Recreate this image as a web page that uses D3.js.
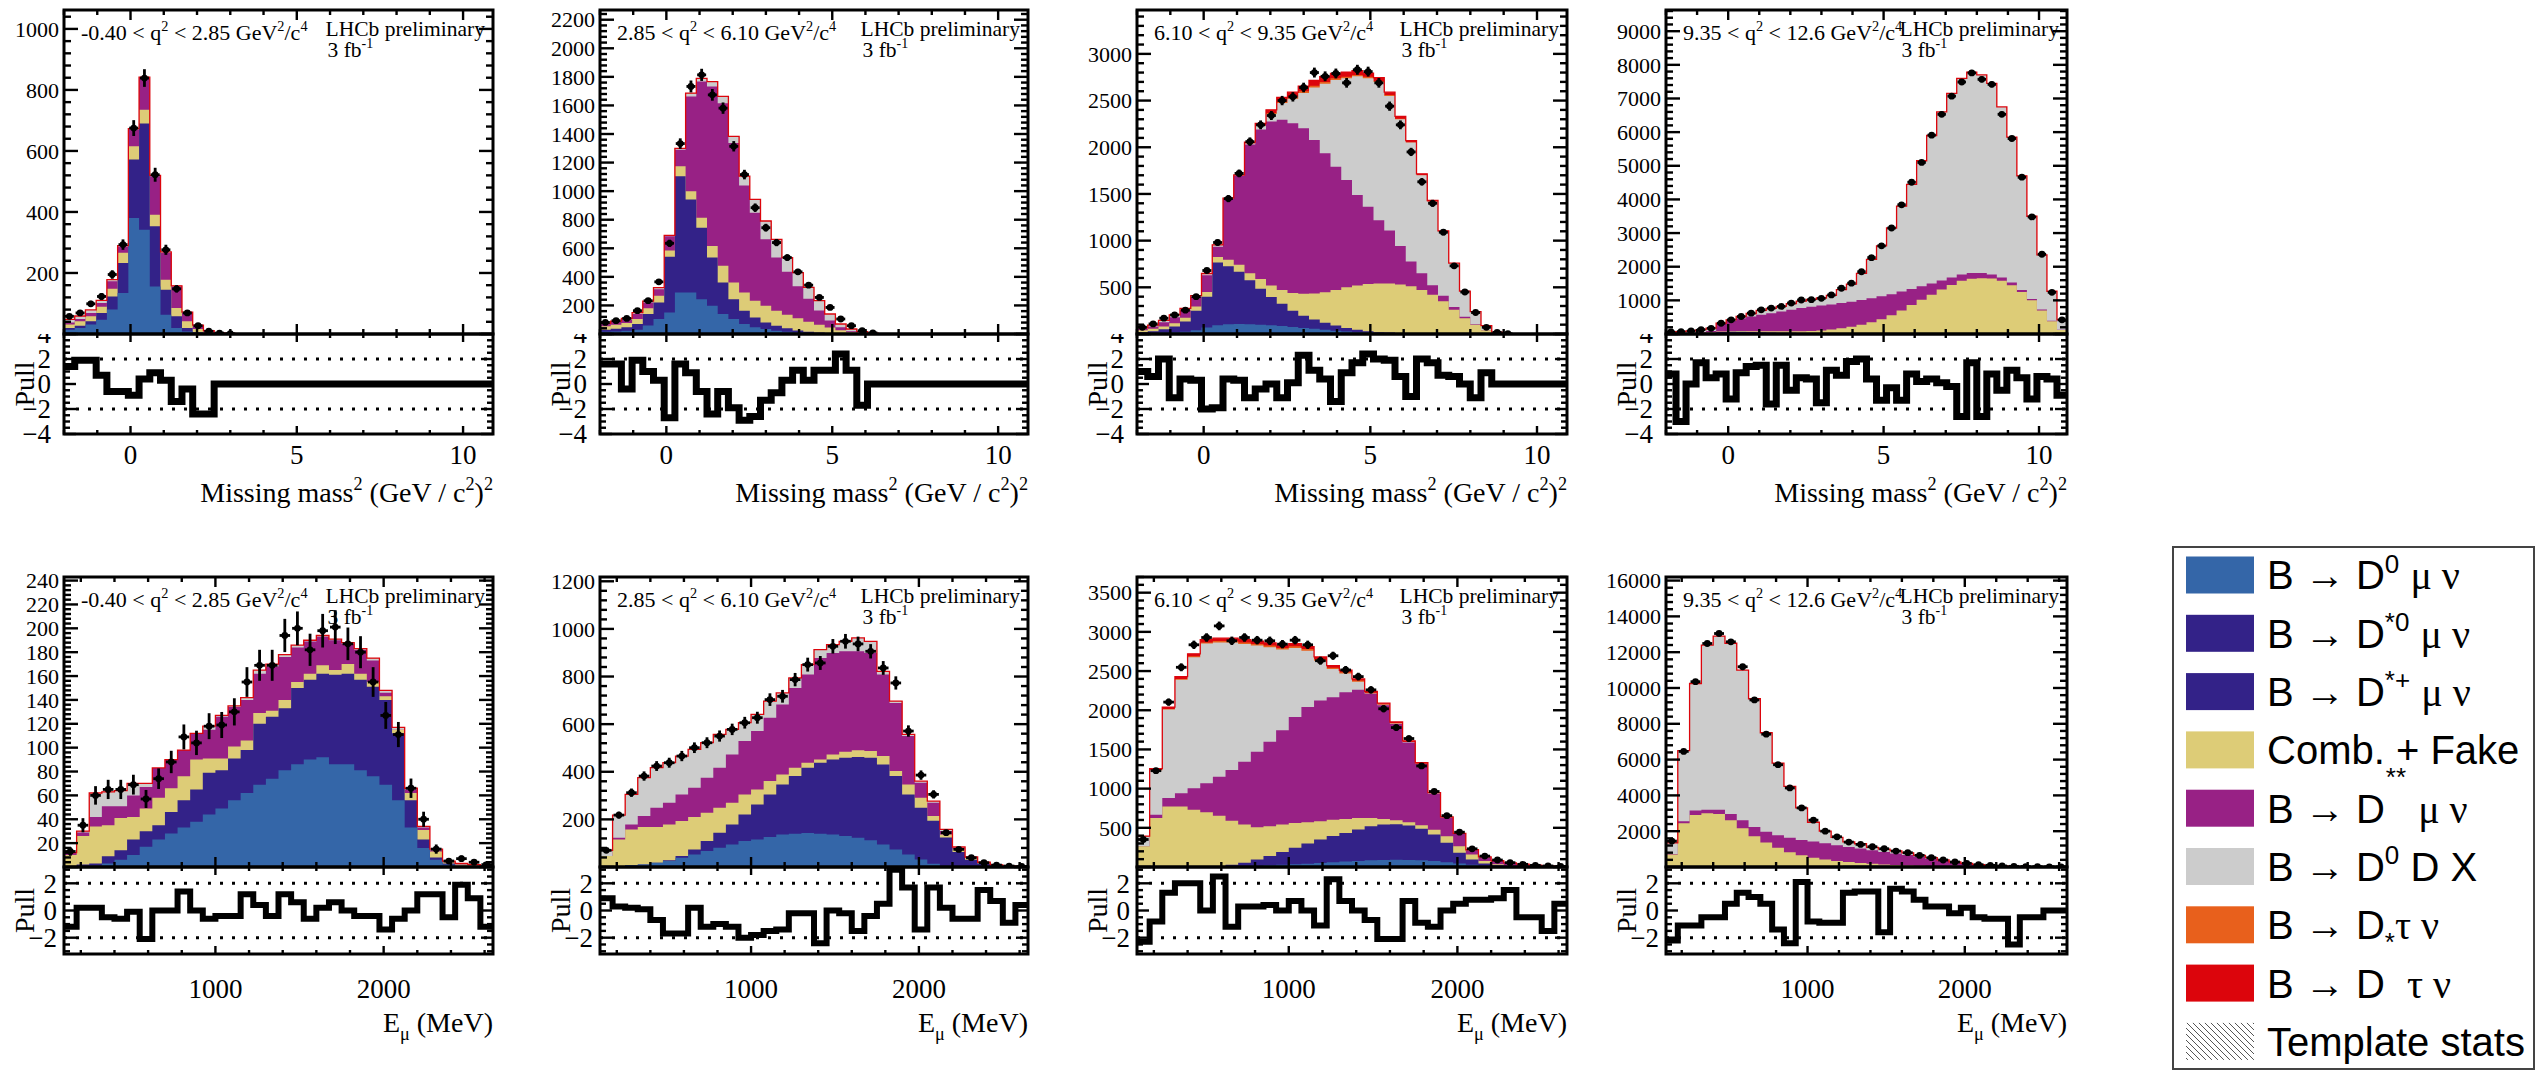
<!DOCTYPE html>
<html>
<head>
<meta charset="utf-8">
<script src="https://cdn.jsdelivr.net/npm/d3@7"></script>
<style>
  html, body { margin: 0; padding: 0; background: #fff; }
  svg { display: block; }
  text { font-family: "Liberation Serif", "Times New Roman", serif; fill: #000; white-space: pre; }
  .leg text { font-family: "Liberation Sans", Arial, sans-serif; }
</style>
</head>
<body>
<svg id="chart" width="2539" height="1086"></svg>
<script>
// ---------------------------------------------------------------
// Binning and q^2 intervals
// ---------------------------------------------------------------
const MM_RANGE = [-2, 10.9];      // missing mass squared, 40 bins
const EMU_RANGE = [100, 2650];    // muon energy, 34 bins
const Q2_EDGES = ["-0.40", "2.85", "6.10", "9.35", "12.6"];

const MM_YMAX = [1062, 2268, 3470, 9630];
const MM_YSTEP = [200, 200, 500, 1000];
const EMU_YMAX = [243, 1218, 3700, 16200];
const EMU_YSTEP = [20, 200, 500, 2000];

// ---------------------------------------------------------------
// Missing mass squared, q^2 bin 1
// ---------------------------------------------------------------
const MM_Q1_DATA = [58,69,99,123,195,293,675,839,522,276,
  148,69,27,9,3,1,0,0,0,0, 0,0,0,0,0,0,0,0,0,0, 0,0,0,0,0,0,0,0,0,0];
const MM_Q1_D0 = [14,20,31,47,80,134,380,342,156,63,
  20,8,2,0,0,0,0,0,0,0, 0,0,0,0,0,0,0,0,0,0, 0,0,0,0,0,0,0,0,0,0];
const MM_Q1_DST = [6,7,11,22,43,99,192,348,197,82,
  38,12,4,1,0,0,0,0,0,0, 0,0,0,0,0,0,0,0,0,0, 0,0,0,0,0,0,0,0,0,0];
const MM_Q1_COMB = [11,15,16,20,25,33,43,45,38,33,
  27,22,10,4,2,1,0,0,0,0, 0,0,0,0,0,0,0,0,0,0, 0,0,0,0,0,0,0,0,0,0];
const MM_Q1_DSS = [7,7,11,13,25,21,55,104,126,88,
  71,28,12,5,2,1,0,0,0,0, 0,0,0,0,0,0,0,0,0,0, 0,0,0,0,0,0,0,0,0,0];
const MM_Q1_DDX = [10,10,10,8,5,3,3,3,3,3,
  2,2,1,1,0,0,0,0,0,0, 0,0,0,0,0,0,0,0,0,0, 0,0,0,0,0,0,0,0,0,0];
const MM_Q1_PULL = [1.4,1.9,1.9,0.7,-0.6,-0.6,-0.9,0.4,0.9,0.3,
  -1.4,-0.4,-2.4,-2.4,0,0,0,0,0,0, 0,0,0,0,0,0,0,0,0,0, 0,0,0,0,0,0,0,0,0,0];

// ---------------------------------------------------------------
// Missing mass squared, q^2 bin 2
// ---------------------------------------------------------------
const MM_Q2_DATA = [81,93,109,163,233,365,635,1333,1733,1814,
  1674,1581,1314,1116,884,744,640,535,435,342,
  256,186,105,58,23,8,0,0,0,0, 0,0,0,0,0,0,0,0,0,0];
const MM_Q2_D0 = [15,18,22,30,60,105,150,290,290,244,
  198,140,105,70,47,35,23,15,10,6,
  4,2,1,0,0,0,0,0,0,0, 0,0,0,0,0,0,0,0,0,0];
const MM_Q2_DST = [15,18,25,40,80,115,390,815,652,500,
  337,220,139,93,69,46,35,25,15,10,
  6,3,1,0,0,0,0,0,0,0, 0,0,0,0,0,0,0,0,0,0];
const MM_Q2_COMB = [25,28,30,35,40,47,45,69,58,70,
  81,117,116,128,117,117,105,95,85,70,
  55,40,25,12,6,3,0,0,0,0, 0,0,0,0,0,0,0,0,0,0];
const MM_Q2_DSS = [15,20,25,35,40,47,100,116,663,953,
  1117,1139,977,749,616,465,372,300,225,160,
  100,50,20,8,3,1,0,0,0,0, 0,0,0,0,0,0,0,0,0,0];
const MM_Q2_DDX = [5,6,8,10,10,10,5,10,23,23,
  34,47,47,65,93,128,128,100,95,80,
  68,45,23,15,7,2,0,0,0,0, 0,0,0,0,0,0,0,0,0,0];
const MM_Q2_PULL = [1.6,1.6,-0.4,1.9,1.0,0.3,-2.7,1.6,0.9,-0.6,
  -2.4,-0.6,-1.9,-2.9,-2.6,-1.3,-0.7,0.3,1.1,0.3,
  1.1,1.1,2.4,1.1,-1.7,0,0,0,0,0, 0,0,0,0,0,0,0,0,0,0];

// ---------------------------------------------------------------
// Missing mass squared, q^2 bin 3
// ---------------------------------------------------------------
const MM_Q3_DATA = [72,108,169,204,255,400,680,980,1450,1720,
  2060,2240,2340,2500,2540,2640,2800,2760,2790,2690,
  2830,2810,2690,2440,2240,1950,1630,1400,1090,730,
  450,230,72,18,3,0,0,0,0,0];
const MM_Q3_D0 = [8,10,15,20,25,40,70,95,105,108,
  105,100,95,85,75,65,55,45,35,28,
  20,15,10,7,5,3,2,1,0,0, 0,0,0,0,0,0,0,0,0,0];
const MM_Q3_DST = [12,20,35,60,110,210,330,670,620,560,
  470,385,300,240,175,130,100,75,55,35,
  25,15,10,8,5,3,2,1,0,0, 0,0,0,0,0,0,0,0,0,0];
const MM_Q3_COMB = [20,25,30,35,40,45,50,60,70,75,
  75,105,125,145,190,235,280,328,380,437,
  475,505,520,525,520,505,467,419,350,260,
  170,100,40,10,2,0,0,0,0,0];
const MM_Q3_DSS = [15,25,45,65,80,100,178,110,650,950,
  1380,1600,1756,1824,1818,1774,1644,1488,1322,1149,
  968,827,679,568,413,266,179,101,60,30,
  15,5,2,0,0,0,0,0,0,0];
const MM_Q3_DDX = [10,15,20,25,20,15,20,20,10,10,
  10,40,80,180,262,376,561,744,928,1091,
  1272,1378,1481,1442,1357,1273,1050,898,690,470,
  275,135,48,10,2,0,0,0,0,0];
const MM_Q3_TAUDST = [0,0,0,0,0,0,0,0,0,0,
  0,0,10,15,20,20,20,20,20,15,
  15,15,10,10,5,0,0,0,0,0, 0,0,0,0,0,0,0,0,0,0];
const MM_Q3_TAUD = [0,0,0,0,0,0,0,0,0,0,
  15,25,35,45,50,55,55,55,50,50,
  45,40,35,30,25,20,15,10,5,0, 0,0,0,0,0,0,0,0,0,0];
const MM_Q3_PULL = [1.0,0.6,2.0,-1.1,0.4,0.3,-2.0,-1.9,0.4,0.3,
  -1.1,-0.4,0.0,-1.1,0.1,2.3,1.1,0.4,-1.4,0.9,
  1.7,2.4,2.0,1.9,0.6,-1.0,2.0,1.7,0.7,0.6,
  0.0,-1.1,0.9,0.0,0,0,0,0,0,0];

// ---------------------------------------------------------------
// Missing mass squared, q^2 bin 4
// ---------------------------------------------------------------
const MM_Q4_DATA = [60,70,90,130,170,320,420,520,620,720,
  770,820,920,1010,1020,1060,1160,1360,1510,1850,
  2270,2620,3150,3840,4510,5100,5910,6530,7070,7490,
  7760,7570,7420,6530,5810,4660,3480,2370,1240,420];
const MM_Q4_D0 = [5,5,5,8,10,15,15,12,10,8,
  6,5,4,3,2,1,1,0,0,0, 0,0,0,0,0,0,0,0,0,0, 0,0,0,0,0,0,0,0,0,0];
const MM_Q4_DST = [10,10,15,20,30,45,55,55,50,45,
  40,35,30,25,20,15,10,8,5,3,
  2,1,0,0,0,0,0,0,0,0, 0,0,0,0,0,0,0,0,0,0];
const MM_Q4_COMB = [5,5,5,8,10,15,15,20,25,30,
  35,40,45,55,70,90,120,160,210,270,
  350,440,560,700,860,1020,1170,1320,1460,1580,
  1640,1660,1650,1580,1450,1250,1000,700,380,120];
const MM_Q4_DSS = [10,12,15,25,40,225,305,383,435,487,
  539,590,641,687,718,744,749,752,745,737,
  708,679,620,560,480,400,330,270,220,190,
  170,150,120,100,80,60,40,25,12,5];
const MM_Q4_DDX = [30,38,50,69,85,20,30,50,90,130,
  140,150,180,210,220,220,270,400,520,790,
  1160,1500,1970,2540,3110,3730,4400,5010,5470,5830,
  5970,5890,5680,5070,4320,3390,2460,1625,878,295];
const MM_Q4_PULL = [0.8,-3.0,0.0,1.7,0.5,0.8,-1.2,0.9,1.4,1.5,
  -1.6,1.5,-0.5,0.5,0.4,-1.5,1.1,0.7,1.8,2.0,
  0.4,-1.3,-0.3,-1.3,0.8,0.2,0.4,0.1,-0.2,-2.6,
  1.7,-2.6,0.8,-0.5,1.1,0.5,-1.2,0.6,0.4,-0.9];

// ---------------------------------------------------------------
// Muon energy, q^2 bin 1
// ---------------------------------------------------------------
const EMU_Q1_DATA = [13,35,60,65,65,69,57,74,88,109,
  104,118,119,130,155,169,169,194,200,182,
  198,201,187,180,155,127,111,66,40,15,
  5,7,4,2];
const EMU_Q1_D0 = [0,0.5,1,3,6,10,17,23,28,33,
  38,44,49,56,62,69,74,81,86,90,
  92,86,86,81,76,69,56,33,16,6,
  2,0.5,0,0];
const EMU_Q1_DST = [0.5,1.5,2,6,8,13,13,12,18,23,
  27,35,32,35,36,51,52,52,64,67,
  70,75,76,76,75,71,56,23,7,2,
  1,0.5,0.3,0.2];
const EMU_Q1_COMB = [9.5,24,31,26,27,19,19,23,20,20,
  25,12,10,10,8,9,5,7,5,5,
  7,4,8,5,4,3,3,6,8,5,
  1,1,1,0.5];
const EMU_Q1_DSS = [2,3,8,16,10,18,18,25,24,22,
  22,24,35,33,34,33,37,36,29,27,
  24,25,17,20,18,3,0,3,2,1,
  0.5,0.5,0.3,0.1];
const EMU_Q1_DDX = [0,1,20,12,13,10,3,0,0,0,
  0,3,1,1,2,3,2,2,2,1,
  1,1,1,1,2,2,2,1,1,1,
  0.5,0.5,0.4,0.2];
const EMU_Q1_PULL = [-1.2,0.2,0.2,-0.5,-0.6,-0.1,-2.1,0.0,0.0,1.4,
  0.0,-0.6,-0.4,-0.4,1.2,0.4,-0.4,1.2,0.6,-0.6,
  0.2,0.6,0.0,-0.4,-0.4,-1.4,-0.6,0.0,1.2,1.2,
  -0.5,1.9,0.9,-1.2];

// ---------------------------------------------------------------
// Muon energy, q^2 bin 2
// ---------------------------------------------------------------
const EMU_Q2_DATA = [70,218,312,382,424,438,466,501,522,550,
  578,606,627,703,717,787,850,857,927,948,
  937,906,836,773,571,386,305,144,74,39,
  18,8,4,2];
const EMU_Q2_D0 = [1,4,7,11,18,25,39,53,67,81,
  95,109,116,126,137,140,143,140,137,130,
  123,112,95,74,53,32,14,4,1,0,
  0,0,0,0];
const EMU_Q2_DST = [0,0,1,0,0,3,7,21,42,63,
  84,112,147,179,210,242,274,298,315,329,
  339,347,336,308,252,217,180,120,62,30,
  14,6,3,1.5];
const EMU_Q2_COMB = [45,112,150,157,150,151,147,136,119,105,
  91,84,63,56,42,35,21,14,21,25,
  28,28,35,21,42,42,20,13,11,9,
  4,2,1,1];
const EMU_Q2_DSS = [0,7,21,46,81,91,112,123,147,168,
  203,224,245,266,294,335,370,426,426,422,
  416,412,342,286,203,63,56,14,7,2,
  1,0.5,0.5,0.3];
const EMU_Q2_DDX = [24,95,126,161,168,168,161,161,147,140,
  105,77,70,70,48,42,42,35,35,42,
  56,49,14,8,7,7,7,7,3,1,
  1,0.5,0.5,0.2];
const EMU_Q2_PULL = [0.9,0.3,0.2,0.1,-0.7,-1.7,-1.7,0.2,-1.2,-1.0,
  -1.2,-2.0,-1.8,-1.5,-1.4,-0.2,-0.2,-2.4,0.0,-0.2,
  -1.5,-0.4,0.5,3.0,1.7,-1.4,1.7,0.2,-0.6,-0.6,
  1.5,0.7,-0.9,0.4];

// ---------------------------------------------------------------
// Muon energy, q^2 bin 3
// ---------------------------------------------------------------
const EMU_Q3_DATA = [351,1229,2104,2548,2835,2928,3076,2886,2928,2894,
  2886,2843,2894,2835,2632,2695,2514,2429,2260,2019,
  1779,1639,1289,963,655,444,232,139,89,55,
  34,21,13,8];
const EMU_Q3_D0 = [0,0,1,2,3,5,7,10,13,17,
  22,28,35,42,50,60,70,78,85,90,
  92,90,85,75,62,45,28,15,7,3,
  1,0,0,0];
const EMU_Q3_DST = [0,0,1,2,3,4,6,20,42,78,
  117,162,210,258,301,335,365,399,435,451,
  453,440,402,339,246,137,69,31,14,5,
  2,1,0,0];
const EMU_Q3_COMB = [266,625,771,769,725,688,642,561,486,412,
  381,351,317,270,232,209,178,148,105,72,
  51,40,45,60,85,84,64,30,13,5,
  5,4,3,2];
const EMU_Q3_DSS = [0,42,106,169,274,372,498,647,802,963,
  1077,1204,1352,1471,1542,1563,1618,1635,1585,1452,
  1229,1020,781,461,235,155,53,49,42,36,
  25,18,9,6];
const EMU_Q3_DDX = [122,568,1131,1448,1670,1781,1712,1627,1502,1355,
  1208,1030,881,719,505,358,239,105,5,5,
  5,5,5,5,4,3,2,2,2,2,
  2,1,1,1];
const EMU_Q3_TAUDST = [0,0,5,10,13,15,20,20,20,20,
  20,20,20,20,20,17,15,13,7,5,
  5,3,2,2,2,1,1,1,0,0,
  0,0,0,0];
const EMU_Q3_TAUD = [5,20,25,30,32,35,35,35,35,35,
  35,35,35,30,30,28,25,22,18,15,
  15,12,10,8,6,5,3,2,2,1,
  1,1,0,0];
const EMU_Q3_PULL = [-2.3,-0.8,1.3,2.0,2.0,0.0,2.5,-1.2,0.3,0.3,
  0.4,0.0,0.7,0.0,-1.1,2.3,0.7,0.0,-0.7,-2.1,
  -2.1,0.7,-0.9,-1.2,0.0,0.5,0.8,0.8,0.9,1.5,
  -0.5,-0.5,-1.5,0.5];

// ---------------------------------------------------------------
// Muon energy, q^2 bin 4
// ---------------------------------------------------------------
const EMU_Q4_DATA = [1447,6456,10352,12486,13043,12579,11187,9332,7421,5714,
  4416,3302,2616,2004,1688,1391,1262,1132,1020,891,
  798,649,519,390,278,204,130,93,56,37,
  25,18,10,6];
const EMU_Q4_D0 = [0,0,0,0,0,0,0,0,0,0,
  3,5,8,10,12,14,15,15,14,12,
  10,8,6,4,2,1,0,0,0,0,
  0,0,0,0];
const EMU_Q4_DST = [0,0,0,5,5,8,10,12,15,20,
  25,30,35,40,45,50,52,52,50,45,
  40,35,28,20,12,6,3,1,0,0,
  0,0,0,0];
const EMU_Q4_COMB = [700,2450,2900,3000,2950,2600,2150,1700,1350,1050,
  800,620,480,370,280,210,150,110,80,55,
  40,25,15,8,4,2,1,0,0,0,
  0,0,0,0];
const EMU_Q4_DSS = [20,100,250,200,250,350,450,520,600,700,
  800,850,900,900,880,850,820,760,700,640,
  580,500,400,320,240,170,110,75,48,30,
  20,12,6,3];
const EMU_Q4_DDX = [630,3950,7100,9195,9695,9542,8390,7168,5535,4030,
  2872,1795,1077,680,433,276,263,163,156,148,
  120,82,71,38,22,21,21,19,12,8,
  5,6,5,3];
const EMU_Q4_PULL = [-2.2,-1.1,-1.1,-0.5,-0.5,0.5,1.3,1.0,0.5,-1.4,
  -2.4,2.1,-0.8,-0.9,-0.9,1.3,1.4,1.4,-1.6,1.6,
  1.4,0.8,0.3,0.3,-0.2,0.2,-0.5,-0.6,-0.6,-2.5,
  -0.5,-0.5,0.0,0.0];

// ---------------------------------------------------------------
// Stack components (bottom to top) and their colours
// ---------------------------------------------------------------
const KEYS = ["d0", "dst", "comb", "dss", "ddx", "tauDst", "tauD"];
const COLORS = {
  d0: "#3466A8", dst: "#332288", comb: "#DDCC77", dss: "#982185",
  ddx: "#CCCCCC", tauDst: "#E8601C", tauD: "#DC050C"
};

const SERIF = "Liberation Serif";
const LEGEND = [
  { color: COLORS.d0,     parts: [["B \u2192 D","n"],["0","sup"],[" ","n"],["\u03BC \u03BD","n",SERIF]] },
  { color: COLORS.dst,    parts: [["B \u2192 D","n"],["*0","sup"],[" ","n"],["\u03BC \u03BD","n",SERIF]] },
  { color: COLORS.dst,    parts: [["B \u2192 D","n"],["*+","sup"],[" ","n"],["\u03BC \u03BD","n",SERIF]] },
  { color: COLORS.comb,   parts: [["Comb. + Fake","n"]] },
  { color: COLORS.dss,    parts: [["B \u2192 D","n"],["   ","n"],["\u03BC \u03BD","n",SERIF]], raised: "**" },
  { color: COLORS.ddx,    parts: [["B \u2192 D","n"],["0","sup"],[" D X","n"]] },
  { color: COLORS.tauDst, parts: [["B \u2192 D","n"],["*","sub"],["\u03C4 \u03BD","n",SERIF]] },
  { color: COLORS.tauD,   parts: [["B \u2192 D","n"],["  ","n"],["\u03C4 \u03BD","n",SERIF]] },
  { hatch: true,          parts: [["Template stats","n"]] }
];

// ---------------------------------------------------------------
// Page layout
// ---------------------------------------------------------------
const W = 2539, H = 1086;
const COL_L = [64, 600, 1137, 1666];
const COL_R = [493, 1028, 1567, 2067];
const ROWS = [
  { top: 10,  mid: 334, bot: 434, pullDomain: [-4, 4],     pullLabels: [4, 2, 0, -2, -4], pullGap: 13, pullWidth: 7, tickDy: 30, titleDy: 68 },
  { top: 577, mid: 867, bot: 954, pullDomain: [-3.2, 3.2], pullLabels: [2, 0, -2],        pullGap: 7,  pullWidth: 6, tickDy: 44, titleDy: 78 }
];

const PANELS = [
  { row: 0, col: 0, kind: "mm", q: 0, ymax: MM_YMAX[0], ystep: MM_YSTEP[0], data: MM_Q1_DATA, pull: MM_Q1_PULL,
    comp: { d0: MM_Q1_D0, dst: MM_Q1_DST, comb: MM_Q1_COMB, dss: MM_Q1_DSS, ddx: MM_Q1_DDX } },
  { row: 0, col: 1, kind: "mm", q: 1, ymax: MM_YMAX[1], ystep: MM_YSTEP[1], data: MM_Q2_DATA, pull: MM_Q2_PULL,
    comp: { d0: MM_Q2_D0, dst: MM_Q2_DST, comb: MM_Q2_COMB, dss: MM_Q2_DSS, ddx: MM_Q2_DDX } },
  { row: 0, col: 2, kind: "mm", q: 2, ymax: MM_YMAX[2], ystep: MM_YSTEP[2], data: MM_Q3_DATA, pull: MM_Q3_PULL,
    comp: { d0: MM_Q3_D0, dst: MM_Q3_DST, comb: MM_Q3_COMB, dss: MM_Q3_DSS, ddx: MM_Q3_DDX, tauDst: MM_Q3_TAUDST, tauD: MM_Q3_TAUD } },
  { row: 0, col: 3, kind: "mm", q: 3, ymax: MM_YMAX[3], ystep: MM_YSTEP[3], data: MM_Q4_DATA, pull: MM_Q4_PULL,
    comp: { d0: MM_Q4_D0, dst: MM_Q4_DST, comb: MM_Q4_COMB, dss: MM_Q4_DSS, ddx: MM_Q4_DDX } },
  { row: 1, col: 0, kind: "emu", q: 0, ymax: EMU_YMAX[0], ystep: EMU_YSTEP[0], data: EMU_Q1_DATA, pull: EMU_Q1_PULL,
    comp: { d0: EMU_Q1_D0, dst: EMU_Q1_DST, comb: EMU_Q1_COMB, dss: EMU_Q1_DSS, ddx: EMU_Q1_DDX } },
  { row: 1, col: 1, kind: "emu", q: 1, ymax: EMU_YMAX[1], ystep: EMU_YSTEP[1], data: EMU_Q2_DATA, pull: EMU_Q2_PULL,
    comp: { d0: EMU_Q2_D0, dst: EMU_Q2_DST, comb: EMU_Q2_COMB, dss: EMU_Q2_DSS, ddx: EMU_Q2_DDX } },
  { row: 1, col: 2, kind: "emu", q: 2, ymax: EMU_YMAX[2], ystep: EMU_YSTEP[2], data: EMU_Q3_DATA, pull: EMU_Q3_PULL,
    comp: { d0: EMU_Q3_D0, dst: EMU_Q3_DST, comb: EMU_Q3_COMB, dss: EMU_Q3_DSS, ddx: EMU_Q3_DDX, tauDst: EMU_Q3_TAUDST, tauD: EMU_Q3_TAUD } },
  { row: 1, col: 3, kind: "emu", q: 3, ymax: EMU_YMAX[3], ystep: EMU_YSTEP[3], data: EMU_Q4_DATA, pull: EMU_Q4_PULL,
    comp: { d0: EMU_Q4_D0, dst: EMU_Q4_DST, comb: EMU_Q4_COMB, dss: EMU_Q4_DSS, ddx: EMU_Q4_DDX } }
];

// ---------------------------------------------------------------
// Helpers
// ---------------------------------------------------------------
const svg = d3.select("#chart");
const defs = svg.append("defs");

const hatch = defs.append("pattern").attr("id", "hatch")
  .attr("patternUnits", "userSpaceOnUse").attr("width", 6).attr("height", 6);
hatch.append("path").attr("d", "M-1,-1 L7,7 M-1,5 L1,7 M5,-1 L7,1")
  .attr("stroke", "#555").attr("stroke-width", 1);

// text with super/subscripts: parts = [[string, "n"|"sup"|"sub", fontFamily?], ...]
function richText(sel, parts, size) {
  let cur = 0;
  parts.forEach(([t, kind, fam]) => {
    const target = kind === "sup" ? -0.42 * size : kind === "sub" ? 0.3 * size : 0;
    const ts = sel.append("tspan").text(t);
    if (target !== cur) ts.attr("dy", target - cur);
    if (kind !== "n") ts.attr("font-size", size * 0.65);
    if (fam) ts.attr("font-family", fam);
    cur = target;
  });
  return sel;
}

function clipRect(id, x, y, w, h) {
  defs.append("clipPath").attr("id", id).append("rect")
    .attr("x", x).attr("y", y).attr("width", w).attr("height", h);
}

function tickLine(g, x1, y1, x2, y2) {
  g.append("line").attr("x1", x1).attr("y1", y1).attr("x2", x2).attr("y2", y2)
    .attr("stroke", "#000").attr("stroke-width", 2.4);
}

// ticks along a horizontal edge
function hTicks(g, x, lo, hi, yEdge, dir, major, minor, lenMaj, lenMin) {
  const k0 = Math.ceil(lo / minor - 1e-9), k1 = Math.floor(hi / minor + 1e-9);
  for (let k = k0; k <= k1; k++) {
    const v = k * minor;
    const isMaj = Math.abs(v / major - Math.round(v / major)) < 1e-6;
    const len = isMaj ? lenMaj : lenMin;
    tickLine(g, x(v), yEdge, x(v), yEdge + dir * len);
  }
}
// ticks along a vertical edge
function vTicks(g, y, lo, hi, xEdge, dir, major, minor, lenMaj, lenMin) {
  const k0 = Math.ceil(lo / minor - 1e-9), k1 = Math.floor(hi / minor + 1e-9);
  for (let k = k0; k <= k1; k++) {
    const v = k * minor;
    const isMaj = Math.abs(v / major - Math.round(v / major)) < 1e-6;
    const len = isMaj ? lenMaj : lenMin;
    tickLine(g, xEdge, y(v), xEdge + dir * len, y(v));
  }
}

// ---------------------------------------------------------------
// One fit panel: stacked templates, data, pull strip, axes, labels
// ---------------------------------------------------------------
function drawPanel(p, idx) {
  const R = ROWS[p.row];
  const L = COL_L[p.col], Rt = COL_R[p.col];
  const [lo, hi] = p.kind === "mm" ? MM_RANGE : EMU_RANGE;
  const n = p.data.length;
  const bw = (hi - lo) / n;
  const edge = i => lo + i * bw;

  const x = d3.scaleLinear().domain([lo, hi]).range([L, Rt]);
  const y = d3.scaleLinear().domain([0, p.ymax]).range([R.mid, R.top]);
  const yp = d3.scaleLinear().domain(R.pullDomain).range([R.bot, R.mid]);

  const id = "pn" + idx;
  clipRect(id + "m", L, R.top, Rt - L, R.mid - R.top);
  clipRect(id + "p", L, R.mid, Rt - L, R.bot - R.mid);
  clipRect(id + "lp", 0, R.mid, W, H - R.mid);

  // stacked templates
  const rows = d3.range(n).map(i => Object.fromEntries(KEYS.map(k => [k, p.comp[k] ? p.comp[k][i] : 0])));
  const layers = d3.stack().keys(KEYS)(rows);
  const gm = svg.append("g").attr("clip-path", `url(#${id}m)`);
  const area = d3.area().x(d => x(d.x)).y0(y(0)).y1(d => y(d.v));
  // paint from the top layer down so each lower layer covers the one above
  for (let li = layers.length - 1; li >= 0; li--) {
    const layer = layers[li];
    const pts = [];
    layer.forEach((s, i) => { pts.push({ x: edge(i), v: s[1] }, { x: edge(i + 1), v: s[1] }); });
    gm.append("path").attr("d", area(pts)).attr("fill", COLORS[layer.key]);
  }
  // outline of the full stack
  const topLayer = layers[layers.length - 1];
  const outline = [[edge(0), 0]];
  topLayer.forEach((s, i) => { outline.push([edge(i), s[1]], [edge(i + 1), s[1]]); });
  outline.push([edge(n), 0]);
  gm.append("path").attr("d", d3.line().x(d => x(d[0])).y(d => y(d[1]))(outline))
    .attr("fill", "none").attr("stroke", COLORS.tauD).attr("stroke-width", 1.3);

  // data points with Poisson error bars
  const gd = gm.append("g").attr("stroke", "#000").attr("stroke-width", 2.8);
  p.data.forEach((v, i) => {
    if (v <= 0) return;
    const cx = x(edge(i) + bw / 2), cy = y(v), e = Math.sqrt(v);
    gd.append("line").attr("x1", x(edge(i) + 0.08 * bw)).attr("x2", x(edge(i + 1) - 0.08 * bw)).attr("y1", cy).attr("y2", cy);
    gd.append("line").attr("x1", cx).attr("x2", cx).attr("y1", y(Math.max(0, v - e))).attr("y2", y(v + e));
    gd.append("circle").attr("cx", cx).attr("cy", cy).attr("r", 3.4).attr("fill", "#000").attr("stroke", "none");
  });

  // pull strip
  const gp = svg.append("g").attr("clip-path", `url(#${id}p)`);
  [2, -2].forEach(v => {
    gp.append("line").attr("x1", L).attr("x2", Rt).attr("y1", yp(v)).attr("y2", yp(v))
      .attr("stroke", "#000").attr("stroke-width", 3).attr("stroke-dasharray", "3,9");
  });
  const ppts = [];
  p.pull.forEach((v, i) => { ppts.push([edge(i), v], [edge(i + 1), v]); });
  gp.append("path").attr("d", d3.line().x(d => x(d[0])).y(d => yp(d[1]))(ppts))
    .attr("fill", "none").attr("stroke", "#000").attr("stroke-width", R.pullWidth).attr("stroke-linejoin", "miter");

  // frames and ticks
  const ga = svg.append("g");
  ga.append("rect").attr("x", L).attr("y", R.top).attr("width", Rt - L).attr("height", R.mid - R.top)
    .attr("fill", "none").attr("stroke", "#000").attr("stroke-width", 3);
  ga.append("rect").attr("x", L).attr("y", R.mid).attr("width", Rt - L).attr("height", R.bot - R.mid)
    .attr("fill", "none").attr("stroke", "#000").attr("stroke-width", 3);
  const xMaj = p.kind === "mm" ? 5 : 1000, xMin = p.kind === "mm" ? 1 : 200;
  hTicks(ga, x, lo, hi, R.mid, -1, xMaj, xMin, 10, 5);
  hTicks(ga, x, lo, hi, R.top, 1, xMaj, xMin, 10, 5);
  hTicks(ga, x, lo, hi, R.mid, 1, xMaj, xMin, 8, 4);
  hTicks(ga, x, lo, hi, R.bot, -1, xMaj, xMin, 8, 4);
  vTicks(ga, y, 0, p.ymax, L, 1, p.ystep, p.ystep / 5, 14, 7);
  vTicks(ga, y, 0, p.ymax, Rt, -1, p.ystep, p.ystep / 5, 14, 7);
  vTicks(ga, yp, R.pullDomain[0], R.pullDomain[1], L, 1, 2, 0.5, 12, 6);
  vTicks(ga, yp, R.pullDomain[0], R.pullDomain[1], Rt, -1, 2, 0.5, 12, 6);

  // y labels of the main pad (the zero is left to the pull strip)
  d3.range(p.ystep, p.ymax + 1e-6, p.ystep).forEach(v => {
    svg.append("text").attr("x", L - 5).attr("y", y(v)).attr("dy", "0.35em")
      .attr("text-anchor", "end").attr("font-size", 22).text(d3.format("d")(v));
  });
  // y labels of the pull pad
  const glp = svg.append("g").attr("clip-path", `url(#${id}lp)`);
  R.pullLabels.forEach(v => {
    glp.append("text").attr("x", L - R.pullGap).attr("y", yp(v)).attr("dy", "0.35em")
      .attr("text-anchor", "end").attr("font-size", 27).text(v < 0 ? "\u2212" + Math.abs(v) : String(v));
  });
  // pull title
  const px = L - 30, py = yp(0);
  svg.append("text").attr("x", px).attr("y", py).attr("transform", `rotate(-90,${px},${py})`)
    .attr("text-anchor", "middle").attr("font-size", 28).text("Pull");

  // x labels
  const xTicks = p.kind === "mm" ? [0, 5, 10] : [1000, 2000];
  xTicks.forEach(v => {
    svg.append("text").attr("x", x(v)).attr("y", R.bot + R.tickDy).attr("text-anchor", "middle")
      .attr("font-size", 27).text(String(v));
  });
  const title = svg.append("text").attr("x", Rt).attr("y", R.bot + R.titleDy)
    .attr("text-anchor", "end").attr("font-size", 28);
  if (p.kind === "mm") {
    richText(title, [["Missing mass","n"],["2","sup"],[" (GeV / c","n"],["2","sup"],[")","n"],["2","sup"]], 28);
  } else {
    richText(title, [["E","n"],["\u03BC","sub"],[" (MeV)","n"]], 28);
  }

  // q^2 interval and experiment tag
  const qt = svg.append("text").attr("x", L + 17).attr("y", R.top + 30).attr("font-size", 22);
  richText(qt, [[Q2_EDGES[p.q] + " < q","n"],["2","sup"],[" < " + Q2_EDGES[p.q + 1] + " GeV","n"],["2","sup"],["/c","n"],["4","sup"]], 22);
  const lt = svg.append("text").attr("x", Rt - 8).attr("y", R.top + 26).attr("text-anchor", "end")
    .attr("font-size", 21.5).text("LHCb preliminary");
  const lw = lt.node().getComputedTextLength();
  const ft = svg.append("text").attr("x", Rt - 8 - lw + 2).attr("y", R.top + 47).attr("font-size", 21.5);
  richText(ft, [["3 fb","n"],["-1","sup"]], 21.5);
}

PANELS.forEach(drawPanel);

// ---------------------------------------------------------------
// Legend
// ---------------------------------------------------------------
const LEG = { x: 2173, y: 547, w: 361, h: 522, row0: 575, step: 58.3, swX: 2186, swW: 68, swH: 37, txtX: 2267, size: 40 };
const gl = svg.append("g").attr("class", "leg");
gl.append("rect").attr("x", LEG.x).attr("y", LEG.y).attr("width", LEG.w).attr("height", LEG.h)
  .attr("fill", "#fff").attr("stroke", "#444").attr("stroke-width", 2);
LEGEND.forEach((e, i) => {
  const cy = LEG.row0 + i * LEG.step;
  gl.append("rect").attr("x", LEG.swX).attr("y", cy - LEG.swH / 2).attr("width", LEG.swW).attr("height", LEG.swH)
    .attr("fill", e.hatch ? "url(#hatch)" : e.color);
  const t = gl.append("text").attr("x", LEG.txtX).attr("y", cy + LEG.size * 0.36).attr("font-size", LEG.size);
  richText(t, e.parts, LEG.size);
  if (e.raised) {
    // superscript that sits high above its line
    const probe = gl.append("text").attr("font-size", LEG.size).text("B \u2192 D");
    const dw = probe.node().getComputedTextLength();
    probe.remove();
    gl.append("text").attr("x", LEG.txtX + dw + 1).attr("y", cy - LEG.size * 0.55)
      .attr("font-size", LEG.size * 0.65).text(e.raised);
  }
});
</script>
</body>
</html>
